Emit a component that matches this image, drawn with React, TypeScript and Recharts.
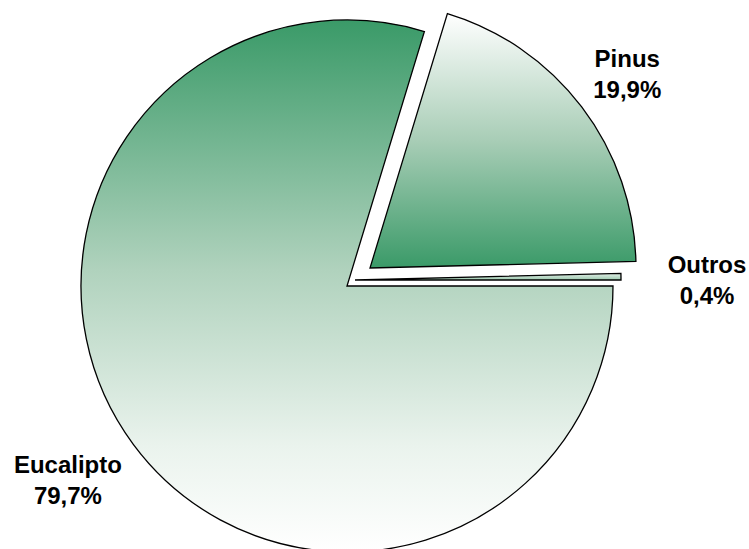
import React from "react";
import { PieChart, Pie, Cell } from "recharts";

const species = ["Eucalipto", "Pinus", "Outros"];
const shares = [79.7, 19.9, 0.4];
const shareLabels = ["79,7%", "19,9%", "0,4%"];

const data = species.map((name, i) => ({ name, value: shares[i], label: shareLabels[i] }));

const RADIAN = Math.PI / 180;
const RADIUS = 266;
// each slice is drawn by its own pie, shifted to look exploded
const centers = [
    { cx: 347, cy: 286 },
    { cx: 370, cy: 268 },
    { cx: 355, cy: 280 },
];
const labelGap = [74, 56, 86];
const labelTurn = [-1.7, -0.3, -0.8];
const fills = ["url(#gradEuc)", "url(#gradPinus)", "url(#gradOutros)"];

function makeLabel(show: number) {
    return (props: any) => {
        const { cx, cy, midAngle, outerRadius, index } = props;
        if (index !== show) return null;
        const r = outerRadius + labelGap[index];
        const a = (midAngle + labelTurn[index]) * RADIAN;
        const x = cx + r * Math.cos(-a);
        const y = cy + r * Math.sin(-a);
        return (
            <text
                x={x}
                y={y}
                textAnchor="middle"
                fill="#000"
                fontFamily="'Liberation Sans', Arial, sans-serif"
                fontWeight="bold"
                fontSize={24}
            >
                <tspan x={x} dy={-7}>{data[index].name}</tspan>
                <tspan x={x} dy={31}>{data[index].label}</tspan>
            </text>
        );
    };
}

export default function App() {
    return (
        <div style={{ position: "absolute", left: 0, top: 0, width: 749, height: 549, background: "#fff" }}>
            <PieChart width={749} height={549} margin={{ top: 0, right: 0, bottom: 0, left: 0 }}>
                <defs>
                    <linearGradient id="gradEuc" x1="0" y1="0" x2="0" y2="1">
                        <stop offset="0" stopColor="#3a9a68" />
                        <stop offset="0.47" stopColor="#b0d2bd" />
                        <stop offset="0.8" stopColor="#eaf3ed" />
                        <stop offset="1" stopColor="#ffffff" />
                    </linearGradient>
                    <linearGradient id="gradPinus" x1="0" y1="0" x2="0" y2="1">
                        <stop offset="0" stopColor="#ffffff" />
                        <stop offset="0.5" stopColor="#a8cdb6" />
                        <stop offset="1" stopColor="#3a9a68" />
                    </linearGradient>
                    <linearGradient id="gradOutros" x1="0" y1="0" x2="0" y2="1">
                        <stop offset="0" stopColor="#e4efe8" />
                        <stop offset="1" stopColor="#9cc9ae" />
                    </linearGradient>
                </defs>
                {centers.map((c, p) => (
                    <Pie
                        key={p}
                        data={data}
                        dataKey="value"
                        cx={c.cx}
                        cy={c.cy}
                        outerRadius={RADIUS}
                        startAngle={0}
                        endAngle={-360}
                        label={makeLabel(p)}
                        labelLine={false}
                        isAnimationActive={false}
                    >
                        {data.map((d, i) => (
                            <Cell
                                key={d.name}
                                fill={i === p ? fills[i] : "none"}
                                stroke={i === p ? "#000" : "none"}
                                strokeWidth={1.3}
                            />
                        ))}
                    </Pie>
                ))}
            </PieChart>
        </div>
    );
}
